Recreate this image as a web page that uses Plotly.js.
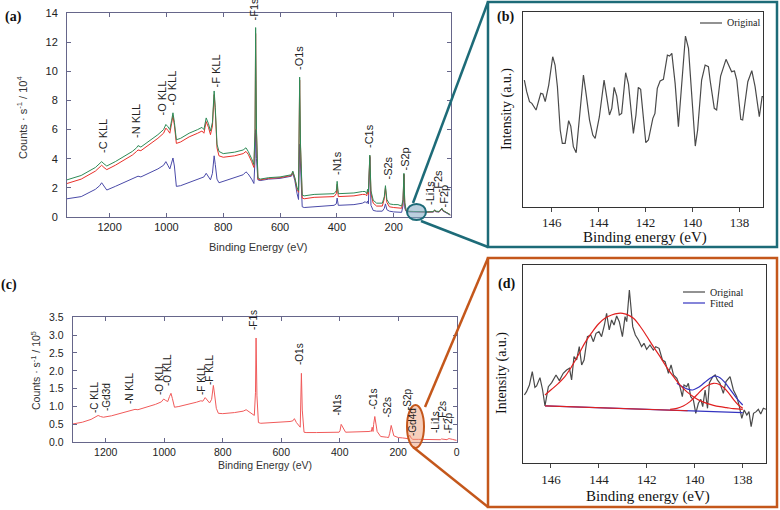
<!DOCTYPE html>
<html><head><meta charset="utf-8">
<script src="https://cdn.plot.ly/plotly-3.0.1.min.js"></script>
<style>html,body{margin:0;padding:0;background:#fff}#plot{width:780px;height:510px}</style>
</head><body><div id="plot"></div>
<script>
// ---------- Panel (a): survey spectra ----------
const aEnergy = [1350,1300,1250,1235,1228,1220,1210,1180,1150,1120,1105,1100,1090,1060,1030,1010,1002,995,988,982,977,972,965,950,920,890,875,868,860,852,845,838,832,828,822,815,800,760,730,720,712,700,692,688,686,683,678,670,640,600,570,560,555,548,540,535,531,528,522,515,480,440,410,402,399,395,380,340,310,300,295,292,289,286,284,280,272,260,240,233,229,224,215,200,185,172,167,164,161,156,150,130,100,80,60,56,52,40,33,30,26,15,8,0];
const aGreen = [2.55,2.85,3.4,3.65,3.8,3.65,3.5,3.8,4.15,4.5,4.75,4.9,4.8,5.2,5.65,6.0,6.35,6.2,6.0,6.6,7.15,6.5,5.3,5.4,5.75,6.0,6.15,6.0,6.8,6.4,5.9,6.5,8.65,7.5,5.0,4.5,4.35,4.45,4.6,4.75,4.5,4.0,3.6,6.0,13.0,6.0,2.7,2.6,2.7,2.75,2.85,2.9,3.15,2.7,2.0,1.8,9.6,5.0,1.5,1.45,1.55,1.55,1.6,1.8,2.45,1.6,1.6,1.65,1.75,1.75,1.6,1.9,1.7,3.0,4.25,1.8,1.15,0.95,0.95,1.4,2.15,1.2,0.9,0.85,0.85,0.75,1.2,3.0,1.0,0.45,0.4,0.38,0.35,0.35,0.37,0.5,0.4,0.38,0.55,0.6,0.45,0.3,0.25,0.15];
const aRed = [2.3,2.6,3.15,3.4,3.55,3.4,3.25,3.55,3.9,4.25,4.5,4.6,4.55,4.95,5.4,5.75,6.1,5.95,5.75,6.4,6.95,6.3,5.05,5.15,5.5,5.75,5.9,5.75,6.55,6.15,5.65,6.25,8.4,7.3,4.75,4.2,4.1,4.2,4.35,4.5,4.3,3.8,3.4,5.8,12.6,5.8,2.6,2.55,2.65,2.7,2.8,2.85,3.1,2.65,1.9,1.7,9.4,4.8,1.3,1.25,1.35,1.35,1.4,1.6,2.25,1.4,1.4,1.45,1.55,1.55,1.45,1.75,1.55,2.9,4.2,1.6,0.95,0.75,0.75,1.25,2.0,1.0,0.7,0.65,0.65,0.6,1.1,2.95,0.9,0.42,0.38,0.36,0.34,0.34,0.36,0.48,0.38,0.36,0.52,0.58,0.43,0.28,0.24,0.14];
const aBlue = [1.25,1.4,1.9,2.15,2.35,2.1,1.85,2.1,2.35,2.6,2.75,2.8,2.75,3.0,3.3,3.55,3.8,3.55,3.3,3.7,4.05,3.5,2.1,2.15,2.35,2.55,2.7,2.75,3.0,2.8,2.55,3.0,4.2,3.6,2.6,2.35,2.45,2.7,2.9,3.1,2.95,2.6,2.3,4.0,6.0,4.0,2.55,2.5,2.6,2.65,2.75,2.8,3.0,2.5,1.6,1.2,5.0,3.0,0.7,0.65,0.7,0.75,0.8,0.9,1.3,0.8,0.8,0.85,0.95,1.05,0.95,1.1,0.9,2.5,4.1,0.8,0.45,0.4,0.4,0.6,0.9,0.5,0.4,0.35,0.35,0.32,0.8,2.9,0.6,0.38,0.35,0.34,0.32,0.32,0.34,0.45,0.36,0.34,0.48,0.55,0.4,0.26,0.22,0.12];
const aTicksX = [1200,1000,800,600,400,200];
const aTicksY = [0,2,4,6,8,10,12,14];
// peak labels (text, x px, bottom y px)
const aLabels = [["-C KLL",103,155],["-N KLL",136,140],["-O KLL",161,118],["-O KLL",171,108],["-F KLL",215,90],["-F1s",254,23],["-O1s",299,72],["-N1s",337,177],["-C1s",369,150],["-S2s",387,182],["-S2p",404,173],["-Li1s",430,207],["-F2s",437,195],["-F2p",443,210]];

// ---------- Panel (b): narrow scan, original ----------
const bEnergy = [147.17,147.07,146.95,146.85,146.67,146.47,146.38,146.28,146.13,145.96,145.86,145.76,145.64,145.55,145.43,145.28,145.19,145.08,144.96,144.82,144.65,144.54,144.39,144.25,144.15,143.97,143.77,143.66,143.54,143.44,143.34,143.23,143.12,143.02,142.85,142.73,142.52,142.41,142.31,142.21,142.09,141.99,141.88,141.69,141.60,141.50,141.38,141.24,141.07,140.98,140.88,140.74,140.60,140.46,140.30,140.17,140.03,139.88,139.78,139.61,139.46,139.32,139.25,139.07,138.97,138.80,138.57,138.47,138.33,138.21,138.11,137.94,137.86,137.64,137.47,137.33,137.23,137.15,137.03,136.98];
const bOriginal = [64.96,58.97,53.85,52.99,49.57,58.12,57.78,53.85,62.39,76.92,72.65,61.54,39.32,32.48,32.48,44.10,41.37,30.77,27.69,44.44,67.52,58.12,44.44,36.75,35.04,46.15,64.96,56.41,47.01,50.43,61.20,56.75,47.01,47.86,68.72,62.91,37.61,47.01,61.20,60.17,44.44,32.82,34.19,45.30,47.86,60.68,64.44,65.30,77.78,77.26,78.63,63.25,41.03,63.25,87.52,81.20,54.70,31.11,39.32,64.96,72.65,71.79,64.96,50.43,49.57,67.01,75.56,72.65,69.23,69.57,64.96,44.79,44.44,64.10,69.74,61.54,51.28,46.15,56.41,56.41];
const bdTicksX = [146,144,142,140,138];

// ---------- Panel (c): survey spectrum ----------
const cEnergy = [1313,1280,1250,1235,1226,1218,1208,1180,1150,1120,1100,1090,1060,1030,1010,1002,995,988,982,977,972,965,950,920,890,875,868,860,852,845,838,832,828,822,815,800,760,730,720,712,700,692,688,686,683,678,670,640,600,570,560,555,548,540,535,531,528,522,515,480,440,410,402,399,395,380,340,310,300,295,292,289,286,284,280,272,260,240,233,229,224,215,200,185,172,167,164,161,156,150,130,100,80,60,56,52,40,33,30,26,15,8,0];
const cCounts = [0.51,0.56,0.64,0.70,0.75,0.72,0.70,0.74,0.80,0.87,0.92,0.91,0.98,1.06,1.13,1.21,1.17,1.14,1.28,1.37,1.22,0.98,1.0,1.05,1.12,1.16,1.15,1.25,1.18,1.1,1.2,1.59,1.35,0.95,0.81,0.8,0.83,0.87,0.91,0.86,0.8,0.75,1.4,2.92,1.3,0.55,0.53,0.54,0.56,0.58,0.6,0.66,0.55,0.45,0.42,1.93,0.9,0.28,0.27,0.27,0.27,0.27,0.28,0.32,0.5,0.28,0.28,0.28,0.3,0.31,0.3,0.42,0.3,0.5,0.72,0.3,0.16,0.14,0.13,0.25,0.47,0.18,0.13,0.12,0.11,0.1,0.14,0.2,0.12,0.08,0.08,0.07,0.07,0.07,0.07,0.09,0.07,0.07,0.09,0.1,0.08,0.06,0.05,0.04];
const cTicksX = [1200,1000,800,600,400,200,0];
const cTicksY = [0,0.5,1,1.5,2,2.5,3,3.5];
const cLabels = [["-C KLL",94,415],["-Gd3d",106,413],["-N KLL",129,406],["-O KLL",159,397],["-O KLL",167,388],["-F KLL",201,397],["-F KLL",209,387],["-F1s",253,332],["-O1s",299,367],["-N1s",337,418],["-C1s",373,412],["-S2s",387,420],["-S2p",407,412],["-Gd4d",412,438],["-Li1s",435,435],["-F2s",442,423],["-F2p",448,435]];

// ---------- Panel (d): narrow scan with fit ----------
const dEnergy = [147.11,147.02,146.90,146.78,146.67,146.60,146.46,146.35,146.25,146.11,145.97,145.79,145.65,145.49,145.35,145.23,145.14,145.04,144.93,144.82,144.72,144.62,144.48,144.34,144.23,144.12,144.00,143.89,143.77,143.68,143.57,143.47,143.37,143.26,143.15,143.02,142.91,142.84,142.73,142.59,142.48,142.35,142.22,142.12,142.01,141.87,141.73,141.63,141.49,141.35,141.24,141.10,140.99,140.89,140.75,140.62,140.52,140.45,140.34,140.27,140.17,140.06,139.96,139.85,139.75,139.67,139.57,139.47,139.39,139.25,139.15,139.06,138.95,138.81,138.70,138.53,138.39,138.25,138.14,138.04,137.94,137.83,137.74,137.65,137.55,137.44,137.35,137.25,137.14,137.03];
const dOriginal = [34.45,36.13,39.50,46.22,38.32,38.99,43.19,36.97,28.91,38.66,40.67,44.54,41.68,45.38,47.06,47.90,42.02,53.78,52.10,58.82,49.58,52.10,63.87,64.71,61.34,65.55,66.39,63.87,69.75,75.63,67.23,72.27,69.75,74.29,71.43,63.87,73.95,71.43,87.39,68.91,64.71,62.18,58.82,60.50,57.48,59.66,57.14,58.82,57.98,52.10,51.26,45.38,49.58,44.54,42.86,38.66,33.61,39.50,38.66,40.34,33.61,31.93,25.21,30.25,32.27,28.57,36.97,27.73,40.67,43.70,44.54,42.02,40.34,35.29,41.18,43.70,36.97,33.61,28.57,22.69,26.89,24.37,26.05,18.49,25.21,26.05,27.23,24.87,27.73,27.23];
const dPeak1Energy = [146.25,145.97,145.69,145.42,145.14,144.86,144.58,144.30,144.02,143.75,143.47,143.19,143.01,142.84,142.56,142.29,142.01,141.73,141.45,141.17,140.89,140.62,140.34,140.06,139.78,139.50,139.22,138.95,138.67,138.39,138.00];
const dPeak1 = [34.45,37.31,40.34,43.70,48.74,54.62,60.84,65.88,70.25,73.11,74.79,75.63,75.63,75.13,73.11,69.24,64.20,58.82,53.78,48.40,43.70,39.50,36.13,33.61,31.60,30.25,29.24,28.57,28.07,27.56,27.23];
const dPeak2Energy = [141.03,140.75,140.48,140.20,139.92,139.64,139.43,139.22,139.02,138.81,138.60,138.39,138.18,138.00];
const dPeak2 = [27.23,27.73,28.91,31.09,34.45,37.82,39.50,40.34,40.00,38.32,35.63,32.27,29.41,27.73];
const dFitEnergy = [140.75,140.48,140.27,140.09,139.92,139.71,139.50,139.29,139.13,138.95,138.74,138.53,138.25,138.00];
const dFit = [40.34,38.32,37.31,36.97,37.82,39.50,41.68,43.36,44.03,43.19,40.67,37.31,32.77,29.41];
const dBaseBlueEnergy = [146.25,138.00];
const dBaseBlue = [28.91,25.55];
const dBaseRedEnergy = [146.25,140.30];
const dBaseRed = [28.91,26.49];

// ---------- helpers (pixel -> paper) ----------
const W = 780, H = 510;
const px = x => x / W;
const py = y => 1 - y / H;

const sans = 'Liberation Sans, Arial, sans-serif';
const serif = 'Liberation Serif, Times New Roman, serif';
const frameA = '#66668a';
const grey = '#4a4a4a', fitBlue = '#3434c0', fitRed = '#e02020';

const traces = [
  {x: aEnergy, y: aBlue, xaxis: 'x', yaxis: 'y', mode: 'lines', line: {color: '#4a4aa8', width: 1}},
  {x: aEnergy, y: aRed, xaxis: 'x', yaxis: 'y', mode: 'lines', line: {color: '#e8302a', width: 1}},
  {x: aEnergy, y: aGreen, xaxis: 'x', yaxis: 'y', mode: 'lines', line: {color: '#2e8b57', width: 1}},
  {x: bEnergy, y: bOriginal, xaxis: 'x2', yaxis: 'y2', mode: 'lines', name: 'Original', line: {color: grey, width: 1.2}},
  {x: cEnergy, y: cCounts, xaxis: 'x3', yaxis: 'y3', mode: 'lines', line: {color: '#f05a5a', width: 1}},
  {x: dEnergy, y: dOriginal, xaxis: 'x4', yaxis: 'y4', mode: 'lines', name: 'Original', line: {color: grey, width: 1.2}},
  {x: dBaseBlueEnergy, y: dBaseBlue, xaxis: 'x4', yaxis: 'y4', mode: 'lines', line: {color: fitBlue, width: 1.2}},
  {x: dBaseRedEnergy, y: dBaseRed, xaxis: 'x4', yaxis: 'y4', mode: 'lines', line: {color: fitRed, width: 1.2}},
  {x: dFitEnergy, y: dFit, xaxis: 'x4', yaxis: 'y4', mode: 'lines', name: 'Fitted', line: {color: fitBlue, width: 1.2, shape: 'spline'}},
  {x: dPeak1Energy, y: dPeak1, xaxis: 'x4', yaxis: 'y4', mode: 'lines', line: {color: fitRed, width: 1.2, shape: 'spline'}},
  {x: dPeak2Energy, y: dPeak2, xaxis: 'x4', yaxis: 'y4', mode: 'lines', line: {color: fitRed, width: 1.2, shape: 'spline'}}
];

const surveyAxis = (extra) => Object.assign({
  showgrid: false, zeroline: false, showline: true, mirror: 'ticks', linecolor: frameA, linewidth: 1,
  ticks: 'inside', ticklen: 4, tickcolor: frameA, tickfont: {family: sans, size: 11, color: '#222'}
}, extra);
const narrowAxis = (extra) => Object.assign({
  showgrid: false, zeroline: false, showline: true, mirror: true, linecolor: '#333', linewidth: 1,
  tickfont: {family: serif, size: 13, color: '#222'}
}, extra);

const annotations = [];
const ann = (text, x, y, opts) => annotations.push(Object.assign({text, x: px(x), y: py(y), xref: 'paper', yref: 'paper', showarrow: false, xanchor: 'center', yanchor: 'middle'}, opts));

aLabels.forEach(([t, x, yb]) => ann(t, x, yb, {textangle: -90, yanchor: 'bottom', font: {family: sans, size: 11, color: '#222'}}));
cLabels.forEach(([t, x, yb]) => ann(t, x, yb, {textangle: -90, yanchor: 'bottom', font: {family: sans, size: 10, color: '#222'}}));

ann('Binding Energy (eV)', 258, 247, {font: {family: sans, size: 11, color: '#333'}});
ann('Counts · s<sup>-1</sup> / 10<sup>4</sup>', 22, 118, {textangle: -90, font: {family: sans, size: 11, color: '#333'}});
ann('Binding Energy (eV)', 265, 465, {font: {family: sans, size: 10.5, color: '#333'}});
ann('Counts · s<sup>-1</sup> / 10<sup>5</sup>', 35, 371, {textangle: -90, font: {family: sans, size: 10.5, color: '#333'}});
ann('Binding energy (eV)', 645, 237, {font: {family: serif, size: 15, color: '#111'}});
ann('Intensity (a.u.)', 507, 109, {textangle: -90, font: {family: serif, size: 14, color: '#111'}});
ann('Binding energy (eV)', 648, 496, {font: {family: serif, size: 15, color: '#111'}});
ann('Intensity (a.u.)', 502, 373, {textangle: -90, font: {family: serif, size: 14, color: '#111'}});
ann('<b>(a)</b>', 13, 17, {font: {family: serif, size: 14, color: '#111'}});
ann('<b>(b)</b>', 505, 17, {font: {family: serif, size: 14, color: '#111'}});
ann('<b>(c)</b>', 9, 285, {font: {family: serif, size: 14, color: '#111'}});
ann('<b>(d)</b>', 506, 284, {font: {family: serif, size: 14, color: '#111'}});
// legend texts
ann('Original', 725, 23, {xanchor: 'left', font: {family: serif, size: 10, color: '#222'}});
ann('Original', 708, 292, {xanchor: 'left', font: {family: serif, size: 10, color: '#222'}});
ann('Fitted', 708, 303, {xanchor: 'left', font: {family: serif, size: 10, color: '#222'}});

const teal = '#1d6b78', orange = '#c4571b';
const line = (x0, y0, x1, y1, color, w) => ({type: 'line', xref: 'paper', yref: 'paper', x0: px(x0), y0: py(y0), x1: px(x1), y1: py(y1), line: {color, width: w}});
const shapes = [
  {type: 'rect', xref: 'paper', yref: 'paper', x0: px(488), x1: px(777), y0: py(247), y1: py(2), line: {color: teal, width: 2.5}},
  {type: 'rect', xref: 'paper', yref: 'paper', x0: px(488), x1: px(777), y0: py(507), y1: py(258), line: {color: orange, width: 2.5}},
  line(413, 203, 488, 2, teal, 2.5),
  line(421, 221, 488, 247, teal, 2.5),
  line(425, 407, 488, 258, orange, 2.5),
  line(413, 447, 488, 507, orange, 2.5),
  {type: 'circle', xref: 'paper', yref: 'paper', x0: px(407), x1: px(426), y0: py(220), y1: py(204), fillcolor: 'rgba(130,170,195,0.55)', line: {color: teal, width: 2}},
  {type: 'circle', xref: 'paper', yref: 'paper', x0: px(407), x1: px(424), y0: py(448), y1: py(405), fillcolor: 'rgba(240,160,120,0.5)', line: {color: orange, width: 2}},
  // legend keys
  line(700, 23, 722, 23, grey, 1.2),
  line(683, 292, 705, 292, grey, 1.2),
  line(683, 303, 705, 303, fitBlue, 1.2)
];

const layout = {
  width: W, height: H, margin: {l: 0, r: 0, t: 0, b: 0}, showlegend: false,
  paper_bgcolor: '#fff', plot_bgcolor: '#fff',
  xaxis: surveyAxis({domain: [px(67), px(450.5)], range: [1350, 0], tickvals: aTicksX, anchor: 'y'}),
  yaxis: surveyAxis({domain: [py(217), py(13)], range: [0, 14], tickvals: aTicksY, anchor: 'x', ticklabelstandoff: 6}),
  xaxis2: narrowAxis({domain: [px(522.7), px(763.3)], range: [147.24, 136.98], tickvals: bdTicksX, ticks: 'outside', ticklen: 4, anchor: 'y2'}),
  yaxis2: narrowAxis({domain: [py(206.7), py(11.7)], range: [0, 100], showticklabels: false, ticks: '', anchor: 'x2'}),
  xaxis3: surveyAxis({domain: [px(72.7), px(456.7)], range: [1313, 0], tickvals: cTicksX, anchor: 'y3', tickfont: {family: sans, size: 10.5, color: '#222'}}),
  yaxis3: surveyAxis({domain: [py(442.2), py(317.3)], range: [0, 3.5], tickvals: cTicksY, tickformat: '.1f', anchor: 'x3', ticklabelstandoff: 6, tickfont: {family: sans, size: 10.5, color: '#222'}}),
  xaxis4: narrowAxis({domain: [px(522.7), px(766)], range: [147.18, 137.03], tickvals: bdTicksX, ticks: 'outside', ticklen: 4, anchor: 'y4'}),
  yaxis4: narrowAxis({domain: [py(463.3), py(265)], range: [0, 100], showticklabels: false, ticks: '', anchor: 'x4'}),
  annotations, shapes
};

Plotly.newPlot('plot', traces, layout, {staticPlot: true, displayModeBar: false});
</script></body></html>
